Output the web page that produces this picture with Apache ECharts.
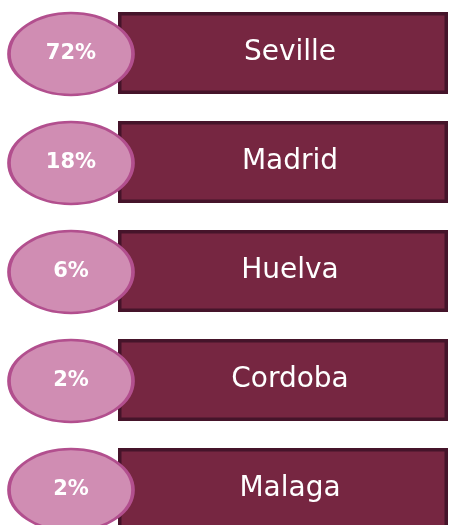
<!DOCTYPE html>
<html>
<head>
<meta charset="utf-8">
<script src="https://cdn.jsdelivr.net/npm/echarts@6/dist/echarts.min.js"></script>
<style>
  html, body { margin: 0; padding: 0; background: #fff; }
  #main { width: 449px; height: 525px; }
</style>
</head>
<body>
<div id="main"></div>
<script>
// cities and their share (%)
var cities = ["Seville", "Madrid", "Huelva", "Cordoba", "Malaga"];
var shares = [72, 18, 6, 2, 2];
// each city box spans the whole scale
var fullScale = 100;

var myChart = echarts.init(document.getElementById("main"));
myChart.setOption({
  backgroundColor: "#ffffff",
  animation: false,
  grid: {
    left: 118,
    right: 1,
    top: 53,
    bottom: 36
  },
  xAxis: {
    type: "value",
    min: 0,
    max: fullScale,
    show: false
  },
  yAxis: {
    type: "category",
    data: cities,
    inverse: true,
    boundaryGap: false,
    show: false
  },
  series: [
    {
      // city boxes
      type: "bar",
      data: cities.map(function () { return fullScale; }),
      barWidth: 82,
      clip: false,
      z: 2,
      itemStyle: {
        color: "#762641",
        borderColor: "#45142a",
        borderWidth: 3.5
      },
      label: {
        show: true,
        position: "inside",
        formatter: "{b}",
        color: "#ffffff",
        fontFamily: "DejaVu Sans",
        fontSize: 28,
        offset: [7, 0]
      }
    },
    {
      // percentage bubbles
      type: "scatter",
      data: cities.map(function (c) { return [0, c]; }),
      symbol: "circle",
      symbolSize: [124, 82],
      symbolOffset: [-47, 1],
      clip: false,
      z: 3,
      itemStyle: {
        color: "#d08db3",
        borderColor: "#b24f8e",
        borderWidth: 3,
        opacity: 1
      },
      label: {
        show: true,
        position: "inside",
        formatter: function (p) { return shares[p.dataIndex] + "%"; },
        color: "#ffffff",
        fontFamily: "DejaVu Sans",
        fontWeight: "bold",
        fontSize: 21
      }
    }
  ]
});
window.onresize = function () {
  myChart.resize();
};
</script>
</body>
</html>
